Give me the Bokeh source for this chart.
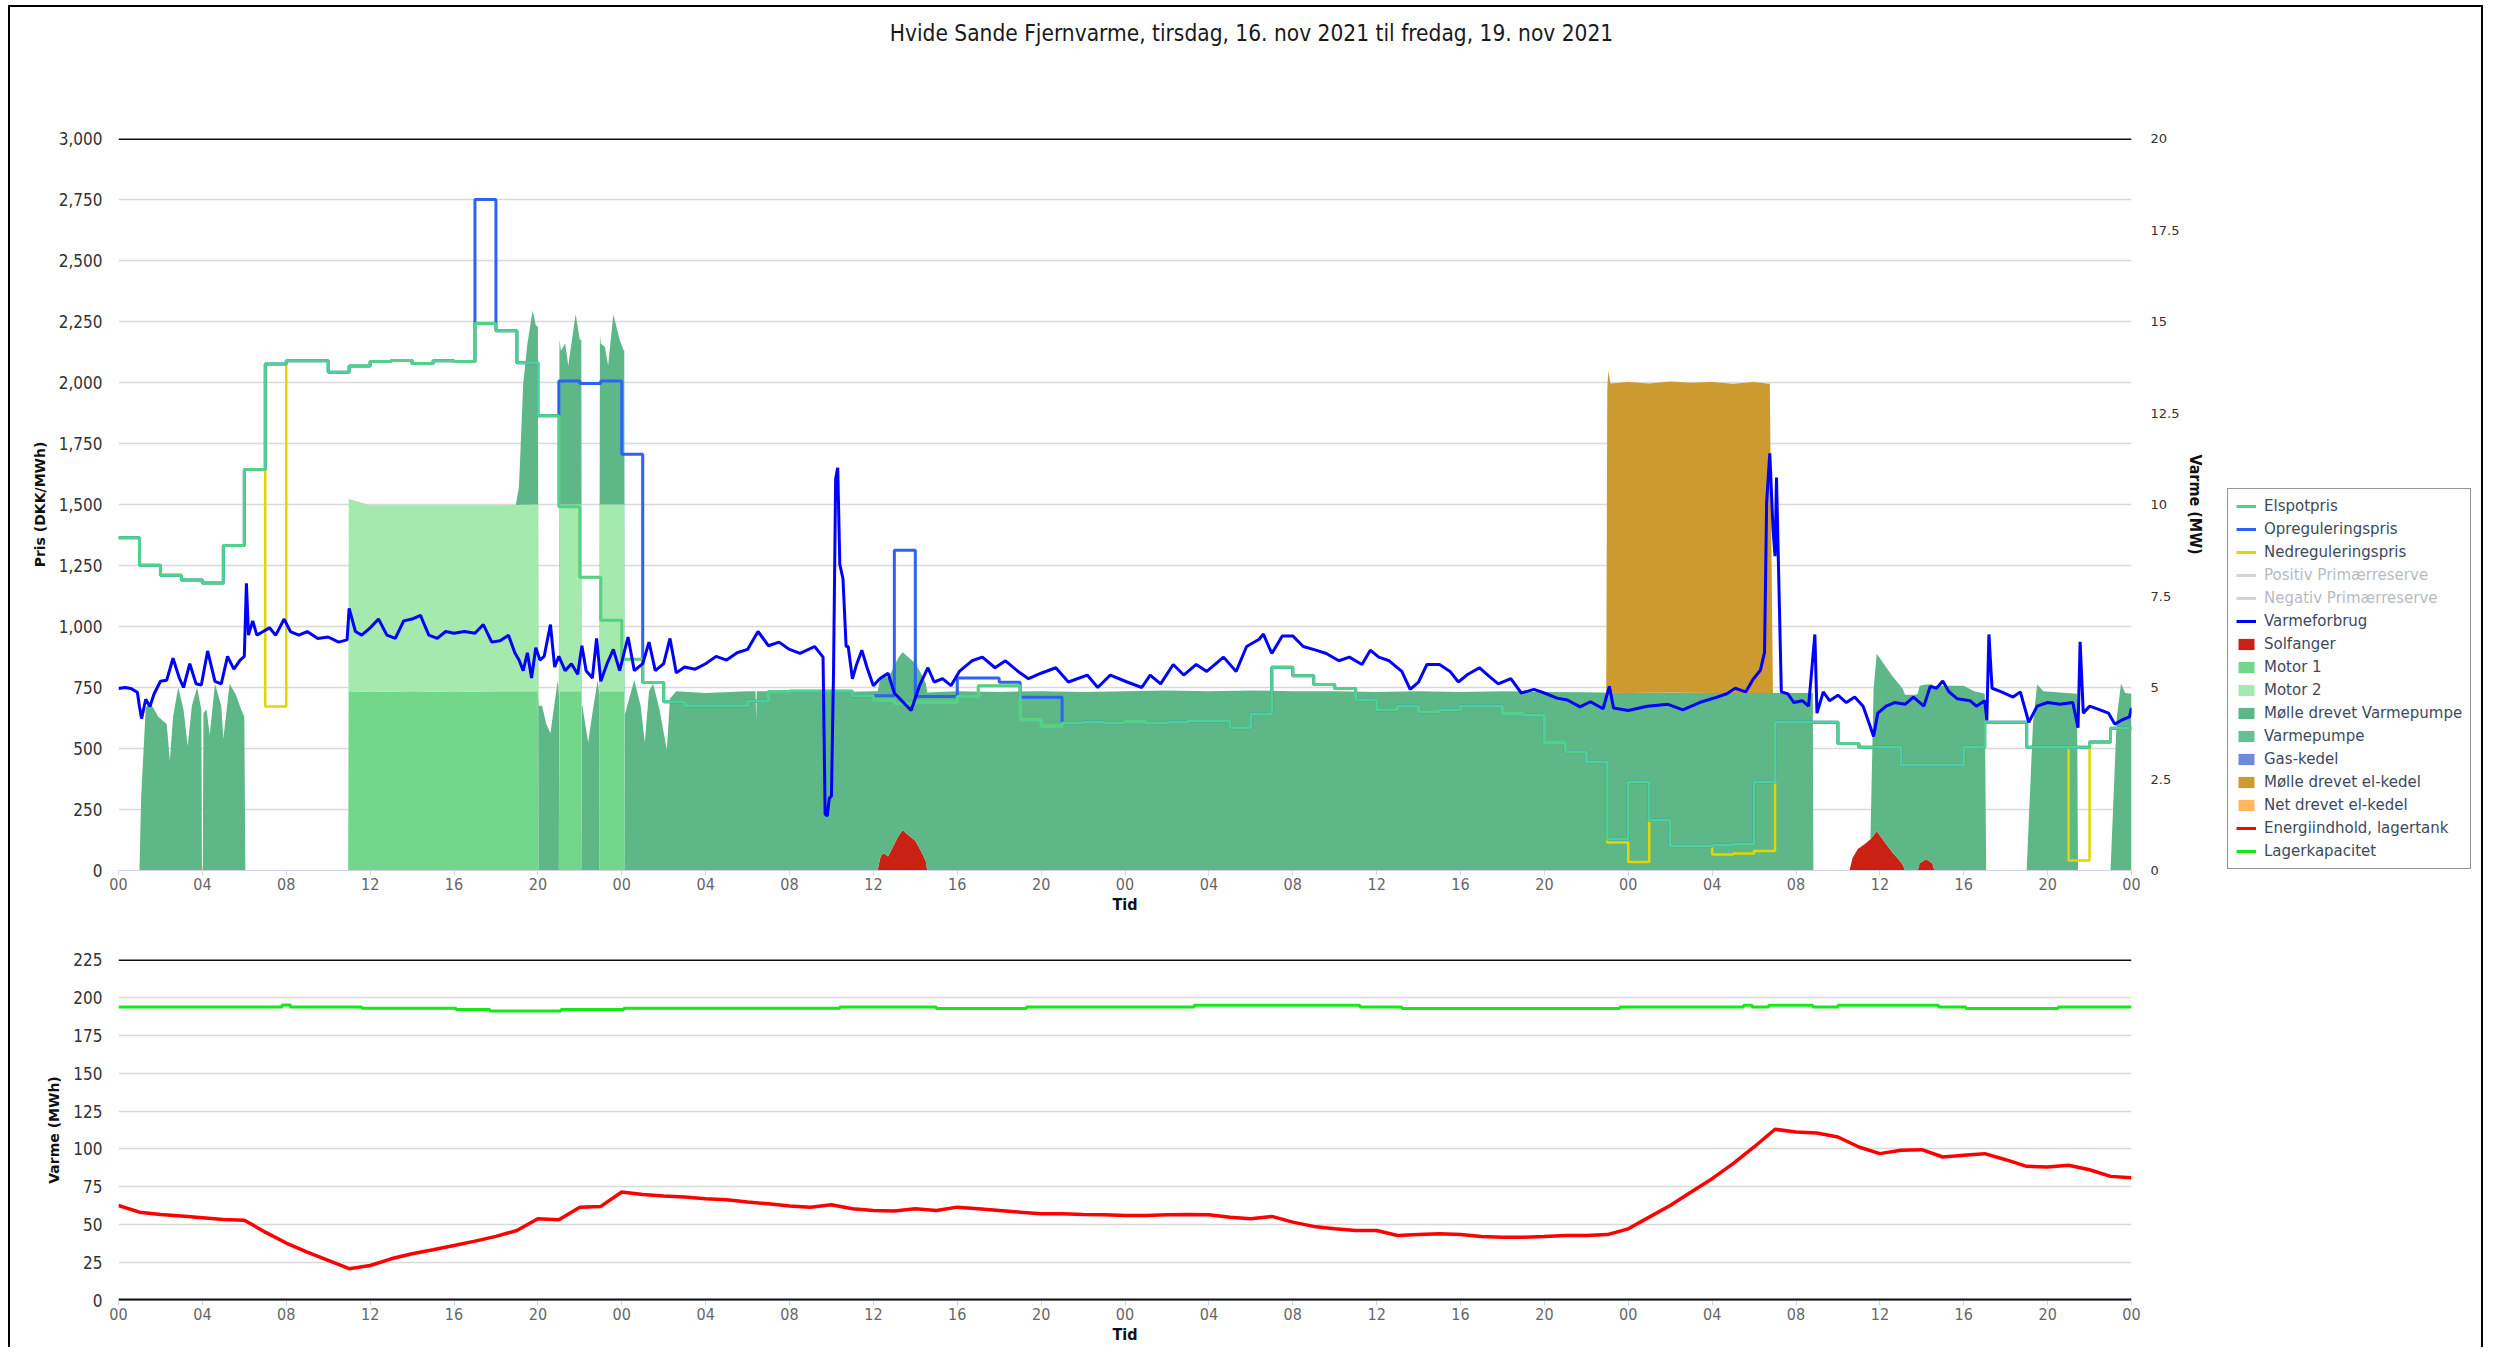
import numpy as np
from bokeh.plotting import figure
from bokeh.models import (Range1d, LinearAxis, FixedTicker, NumeralTickFormatter,
                          Span, Legend, LegendItem, Label)
from bokeh.layouts import column, row
from bokeh.embed import file_html
from bokeh.resources import INLINE

NARROW = "Liberation Sans Narrow, DejaVu Sans Condensed, Arial Narrow, sans-serif"
WIDE = "DejaVu Sans, Verdana, sans-serif"

TITLE = "Hvide Sande Fjernvarme, tirsdag, 16. nov 2021 til fredag, 19. nov 2021"

# ---------------- axis ticks (hours from tirsdag 16. nov 00:00) ----------------
tick_hours = list(range(0, 97, 4))
tick_labels = ["00", "04", "08", "12", "16", "20"] * 4 + ["00"]
price_ticks = list(range(0, 3001, 250))
mw_ticks = [0, 2.5, 5, 7.5, 10, 12.5, 15, 17.5, 20]
mwh_ticks = list(range(0, 226, 25))

# ---------------- hourly prices (DKK/MWh) ----------------
price_hours = list(range(96))
elspot = [1364, 1251, 1210, 1191, 1178, 1332, 1643, 2076, 2089, 2089, 2042, 2068, 2086, 2090, 2078, 2089, 2086, 2242, 2212, 2081,
          1864, 1491, 1202, 1026, 866, 770, 692, 675, 675, 675, 694, 734, 735, 735, 735, 716, 699, 684, 691, 691,
          713, 757, 757, 618, 592, 604, 608, 604, 611, 604, 608, 614, 614, 585, 640, 833, 798, 762, 746, 699,
          659, 673, 651, 658, 673, 673, 643, 636, 525, 486, 445, 129, 363, 206, 100, 100, 103, 108, 363, 608,
          608, 608, 520, 505, 505, 432, 432, 432, 505, 608, 608, 505, 505, 505, 527, 583]
opregulering = [1364, 1251, 1210, 1191, 1178, 1332, 1643, 2076, 2089, 2089, 2042, 2068, 2086, 2090, 2078, 2089, 2086, 2750, 2212, 2081,
                1864, 2006, 1996, 2006, 1706, 770, 692, 675, 675, 675, 694, 734, 735, 735, 735, 716, 716, 1313, 713, 713,
                789, 789, 772, 710, 710, 604, 608, 604, 611, 604, 608, 614, 614, 585, 640, 833, 798, 762, 746, 699,
                659, 673, 651, 658, 673, 673, 643, 636, 525, 486, 445, 129, 363, 206, 100, 100, 103, 108, 363, 608,
                608, 608, 520, 505, 505, 432, 432, 432, 505, 608, 608, 505, 505, 505, 527, 583]
nedregulering = [1364, 1251, 1210, 1191, 1178, 1332, 1643, 672, 2089, 2089, 2042, 2068, 2086, 2090, 2078, 2089, 2086, 2242, 2212, 2081,
                 1864, 1491, 1202, 1026, 866, 770, 692, 675, 675, 675, 694, 734, 735, 735, 735, 716, 699, 684, 691, 691,
                 713, 757, 757, 618, 592, 604, 608, 604, 611, 604, 608, 614, 614, 585, 640, 833, 798, 762, 746, 699,
                 659, 673, 651, 658, 673, 673, 643, 636, 525, 486, 445, 115, 35, 206, 100, 100, 66, 70, 80, 608,
                 608, 608, 520, 505, 505, 432, 432, 432, 505, 608, 608, 505, 505, 41, 527, 583]
# Positiv / Negativ Primærreserve are hidden series (greyed out in the legend)

# ---------------- Varmeforbrug (MW) ----------------
vf_hours = [0, 0.3, 0.6, 0.9, 1.0, 1.1, 1.3, 1.5, 1.7, 2.0, 2.3, 2.6, 2.9, 3.1, 3.4, 3.7, 3.95, 4.25, 4.6, 4.9,
            5.2, 5.5, 5.8, 6.0, 6.1, 6.2, 6.4, 6.6, 6.9, 7.2, 7.5, 7.9, 8.2, 8.6, 9.0, 9.5, 10.0, 10.5, 10.9, 11.0,
            11.3, 11.6, 12.0, 12.4, 12.8, 13.2, 13.6, 14.0, 14.4, 14.8, 15.2, 15.6, 16.0, 16.5, 17.0, 17.4, 17.8, 18.2, 18.6, 18.9,
            19.1, 19.3, 19.5, 19.7, 19.9, 20.1, 20.3, 20.6, 20.8, 21.0, 21.3, 21.6, 21.9, 22.1, 22.3, 22.6, 22.8, 23.0, 23.3, 23.6,
            23.9, 24.3, 24.6, 25.0, 25.3, 25.6, 26.0, 26.3, 26.6, 27.0, 27.5, 28.0, 28.5, 29.0, 29.5, 30.0, 30.5, 31.0, 31.5, 32.0,
            32.5, 33.2, 33.6, 33.7, 33.8, 33.9, 34.0, 34.1, 34.2, 34.3, 34.4, 34.55, 34.7, 34.8, 35.0, 35.2, 35.45, 35.7, 36.0, 36.3,
            36.7, 37.0, 37.4, 37.8, 38.2, 38.6, 38.9, 39.3, 39.7, 40.1, 40.7, 41.2, 41.8, 42.3, 42.9, 43.4, 44.0, 44.7, 45.3, 46.2,
            46.7, 47.3, 48.1, 48.8, 49.2, 49.7, 50.3, 50.8, 51.4, 51.9, 52.7, 53.3, 53.8, 54.4, 54.6, 55.0, 55.5, 56.0, 56.5, 57.1,
            57.6, 58.2, 58.7, 59.3, 59.7, 60.1, 60.6, 61.2, 61.6, 62.0, 62.4, 63.0, 63.5, 63.9, 64.3, 64.9, 65.3, 65.8, 66.4, 66.9,
            67.5, 68.0, 68.6, 69.1, 69.7, 70.2, 70.8, 71.1, 71.3, 72.0, 72.9, 73.9, 74.6, 75.4, 76.2, 76.7, 77.1, 77.6, 77.95, 78.3,
            78.5, 78.6, 78.75, 78.9, 79.0, 79.07, 79.2, 79.3, 79.6, 79.9, 80.3, 80.6, 80.9, 81.0, 81.3, 81.6, 82.0, 82.4, 82.8, 83.2,
            83.5, 83.7, 83.9, 84.3, 84.7, 85.2, 85.6, 86.1, 86.4, 86.7, 87.0, 87.3, 87.7, 88.3, 88.6, 89.0, 89.1, 89.2, 89.35, 89.8,
            90.35, 90.7, 91.1, 91.5, 92.0, 92.6, 93.2, 93.45, 93.55, 93.7, 94.0, 94.5, 94.9, 95.2, 95.5, 95.9, 96.0]
vf_mw = [4.97, 5.0, 4.97, 4.87, 4.48, 4.15, 4.68, 4.48, 4.83, 5.17, 5.2, 5.8, 5.26, 5.0, 5.65, 5.1, 5.07, 6.0, 5.17, 5.1,
         5.85, 5.5, 5.75, 5.85, 7.85, 6.43, 6.82, 6.43, 6.53, 6.63, 6.43, 6.87, 6.53, 6.43, 6.53, 6.34, 6.38, 6.24, 6.3, 7.16,
         6.53, 6.43, 6.63, 6.87, 6.43, 6.34, 6.82, 6.87, 6.97, 6.43, 6.34, 6.53, 6.48, 6.53, 6.48, 6.72, 6.24, 6.28, 6.43, 5.95,
         5.75, 5.46, 5.95, 5.26, 6.09, 5.75, 5.85, 6.72, 5.56, 5.85, 5.46, 5.65, 5.36, 6.14, 5.46, 5.26, 6.34, 5.17, 5.65, 6.04,
         5.46, 6.38, 5.46, 5.65, 6.24, 5.46, 5.65, 6.34, 5.4, 5.56, 5.5, 5.65, 5.85, 5.75, 5.95, 6.04, 6.53, 6.14, 6.24, 6.04,
         5.93, 6.12, 5.83, 1.54, 1.49, 1.98, 2.03, 5.44, 10.7, 11.0, 8.36, 7.97, 6.12, 6.12, 5.24, 5.63, 6.02, 5.54, 5.05, 5.24,
         5.39, 4.85, 4.61, 4.37, 5.05, 5.54, 5.15, 5.24, 5.05, 5.44, 5.73, 5.83, 5.54, 5.73, 5.44, 5.24, 5.39, 5.54, 5.15, 5.34,
         5.0, 5.34, 5.15, 5.0, 5.34, 5.1, 5.63, 5.34, 5.63, 5.44, 5.83, 5.44, 6.12, 6.32, 6.46, 5.93, 6.41, 6.41, 6.12, 6.02,
         5.93, 5.73, 5.83, 5.63, 6.02, 5.83, 5.73, 5.44, 4.95, 5.15, 5.63, 5.63, 5.44, 5.15, 5.34, 5.54, 5.34, 5.1, 5.24, 4.85,
         4.95, 4.85, 4.71, 4.66, 4.47, 4.61, 4.42, 5.03, 4.44, 4.37, 4.49, 4.54, 4.39, 4.59, 4.73, 4.83, 4.98, 4.88, 5.22, 5.47,
         5.96, 10.06, 11.4, 9.37, 8.59, 10.74, 7.42, 4.88, 4.83, 4.59, 4.64, 4.49, 6.45, 4.3, 4.88, 4.64, 4.79, 4.59, 4.74, 4.49,
         4.0, 3.66, 4.3, 4.49, 4.59, 4.54, 4.74, 4.49, 5.03, 4.98, 5.18, 4.88, 4.69, 4.64, 4.49, 4.64, 4.1, 6.45, 4.98, 4.88,
         4.74, 4.88, 4.05, 4.49, 4.59, 4.54, 4.59, 3.9, 6.25, 4.3, 4.49, 4.39, 4.3, 4.0, 4.1, 4.2, 4.44]

# ---------------- production areas (MW) ----------------
solfanger_hours = [36.2, 36.35, 36.5, 36.7, 36.9, 37.2, 37.4, 37.6, 38.0, 38.3, 38.5, 38.57,
                   82.55, 82.7, 82.95, 83.3, 83.6, 83.85, 84.2, 84.6, 84.9, 85.1, 85.2,
                   85.8, 85.9, 86.2, 86.5, 86.6]
solfanger_mw = [0, 0.4, 0.47, 0.38, 0.6, 0.95, 1.1, 1.0, 0.81, 0.5, 0.25, 0,
                0, 0.35, 0.59, 0.73, 0.88, 1.07, 0.8, 0.49, 0.3, 0.15, 0,
                0, 0.2, 0.31, 0.2, 0]

motor_hours = [10.95, 10.98, 12.0, 14.0, 16.0, 18.0, 20.0, 20.03,
               21.0, 21.03, 22.07, 22.1, 22.93, 22.96, 24.12, 24.15]
motor1_mw = [0, 4.9, 4.88, 4.9, 4.88, 4.9, 4.9, 0, 0, 4.9, 4.9, 0, 0, 4.9, 4.9, 0]
motor2_mw = [0, 5.25, 5.1, 5.08, 5.1, 5.08, 5.1, 0, 0, 5.1, 5.1, 0, 0, 5.1, 5.1, 0]

molle_vp_hours = [1.0, 1.08, 1.3, 1.5, 1.7, 1.9, 2.1, 2.3, 2.45, 2.6, 2.85, 3.1, 3.3, 3.5, 3.75, 3.95, 3.98, 4.02, 4.05,
                  4.2, 4.35, 4.6, 4.9, 5.0, 5.3, 5.6, 5.85, 6.0, 6.05,
                  18.95, 19.1, 19.3, 19.5, 19.75, 19.9, 20.02, 20.05, 20.2, 20.4, 20.6, 20.8, 20.95, 21.03, 21.1,
                  21.3, 21.45, 21.8, 22.0, 22.08, 22.12, 22.4, 22.6, 22.85, 22.93, 23.0, 23.2, 23.35, 23.6, 23.9,
                  24.1, 24.17, 24.4, 24.6, 24.9, 25.1, 25.3, 25.5, 25.8, 26.15, 26.3, 26.6, 28.0, 30.0, 30.38,
                  30.41, 30.44, 32.0, 34.0, 36.0, 38.0, 40.0, 42.0, 44.0, 46.0, 48.0, 50.0, 52.0, 54.0, 56.0,
                  58.0, 60.0, 62.0, 64.0, 66.0, 68.0, 70.0, 72.0, 74.0, 76.0, 78.0, 80.8, 80.83,
                  83.55, 83.7, 83.85, 85.0, 85.7, 85.9, 86.2, 86.5, 86.65, 88.0, 88.5, 89.0, 89.07,
                  91.0, 91.3, 91.5, 91.8, 93.4, 93.45, 95.0, 95.3, 95.5, 95.7, 96.0]
molle_vp_mw = [0, 2.0, 4.45, 4.6, 4.4, 4.2, 4.1, 4.0, 3.0, 4.2, 5.0, 4.4, 3.4, 4.5, 5.0, 4.4, 0, 0, 4.3,
               4.4, 3.7, 5.1, 4.5, 3.6, 5.1, 4.8, 4.4, 4.2, 0,
               0, 0.5, 3.3, 4.4, 5.3, 4.9, 4.85, 4.5, 4.5, 4.0, 3.75, 4.6, 5.2, 4.5, 4.2,
               4.4, 3.8, 5.2, 4.5, 4.5, 4.5, 3.5, 4.3, 5.2, 4.8, 4.4, 4.3, 3.8, 5.2, 4.5,
               4.2, 4.3, 4.8, 5.2, 4.5, 3.5, 4.9, 5.1, 4.4, 3.3, 4.7, 4.9, 4.85, 4.9, 4.9,
               4.1, 4.9, 4.9, 4.87, 4.9, 4.85, 4.9, 4.88, 4.9, 4.88, 4.9, 4.92, 4.9, 4.92, 4.9,
               4.9, 4.88, 4.9, 4.88, 4.9, 4.88, 4.87, 4.85, 4.86, 4.85, 4.85, 4.85, 0,
               0, 4.0, 4.85, 4.8, 4.8, 4.85, 4.77, 4.88, 5.05, 5.05, 4.9, 4.83, 0,
               0, 4.0, 5.08, 4.9, 4.83, 0, 0, 4.2, 5.1, 4.85, 4.83]

varmepumpe_hours = []
varmepumpe_mw = []
gas_hours = []
gas_mw = []

molle_elkedel_hours = [70.95, 71.0, 71.05, 71.15, 72.0, 73.0, 74.0, 75.0, 76.0, 77.0, 78.0, 78.75, 78.9]
molle_elkedel_mw = [0, 8.3, 8.8, 8.45, 8.5, 8.45, 8.5, 8.47, 8.5, 8.45, 8.5, 8.45, 0]

net_elkedel_hours = [3.97, 3.99, 4.01, 4.03]
net_elkedel_mw = [0, 0.12, 0.12, 0]

# ---------------- storage (MWh) ----------------
energi_hours = list(range(97))
energi_mwh = [62.7, 58.3, 56.8, 55.7, 54.6, 53.5, 53.0, 45.1, 37.9, 31.9, 26.4, 21.0, 23.1, 27.5, 30.8, 33.5, 36.3, 39.2, 42.3, 46.2,
              53.9, 53.3, 61.6, 62.1, 71.6, 70.0, 68.9, 68.3, 67.2, 66.5, 65.0, 63.8, 62.3, 61.6, 63.2, 60.5, 59.4, 59.0, 60.5, 59.4,
              61.6, 60.5, 59.4, 58.3, 57.2, 57.2, 56.8, 56.6, 56.1, 56.1, 56.6, 56.8, 56.6, 55.0, 53.9, 55.5, 51.7, 48.9, 47.3, 46.2,
              46.2, 42.9, 43.6, 44.0, 43.6, 42.3, 41.8, 41.8, 42.3, 42.9, 42.9, 43.5, 47.3, 55.0, 62.7, 71.6, 80.4, 90.3, 101.3, 113.0,
              111.2, 110.5, 107.9, 101.3, 96.9, 99.1, 99.5, 94.7, 95.8, 96.9, 92.9, 88.5, 88.1, 89.2, 86.3, 81.9, 81.0]

lager_hours = [0, 7.8, 8.2, 11.6, 16.1, 17.7, 21.1, 24.1, 34.4, 39.0, 43.3, 51.3, 59.2, 61.2, 71.6,
               77.5, 77.9, 78.7, 80.8, 82.0, 86.8, 88.1, 92.5]
lager_mwh = [193.7, 195.0, 193.7, 192.9, 192.0, 191.1, 192.0, 192.9, 193.7, 192.6, 193.7, 194.8, 193.7, 192.6, 193.7,
             194.8, 193.7, 194.8, 193.7, 194.8, 193.7, 192.6, 193.7]

# ---------------- colours ----------------
C_ELSPOT = "#50d28c"
C_OP = "#2e62f2"
C_NED = "#e3d500"
C_RES = "#8c8c8c"
C_VF = "#0000ff"
C_SOL = "#cb2115"
C_M1 = "#73d78b"
C_M2 = "#a4e9ae"
C_MVP = "#5db786"
C_VP = "#67c095"
C_GAS = "#6f8ad9"
C_MEK = "#cc9a2f"
C_NEK = "#ffb860"
C_EN = "#ff0000"
C_LAG = "#16ea16"

# ---------------- stacking of the areas ----------------
grid_x = np.array(sorted(set(solfanger_hours + motor_hours + molle_vp_hours + varmepumpe_hours +
                             gas_hours + molle_elkedel_hours + net_elkedel_hours)))


def on_grid(hx, hy):
    if len(hx) == 0:
        return np.zeros_like(grid_x)
    return np.interp(grid_x, hx, hy, left=0.0, right=0.0)


layers = [
    ("Solfanger", on_grid(solfanger_hours, solfanger_mw), C_SOL),
    ("Motor 1", on_grid(motor_hours, motor1_mw), C_M1),
    ("Motor 2", on_grid(motor_hours, motor2_mw), C_M2),
    ("Mølle drevet Varmepumpe", on_grid(molle_vp_hours, molle_vp_mw), C_MVP),
    ("Varmepumpe", on_grid(varmepumpe_hours, varmepumpe_mw), C_VP),
    ("Gas-kedel", on_grid(gas_hours, gas_mw), C_GAS),
    ("Mølle drevet el-kedel", on_grid(molle_elkedel_hours, molle_elkedel_mw), C_MEK),
    ("Net drevet el-kedel", on_grid(net_elkedel_hours, net_elkedel_mw), C_NEK),
]

# ---------------- sizes (page px) ----------------
LEFT = 108          # frame left edge at page x = 118
FRAME_W = 2013      # frame right edge at page x = 2131
RIGHT1 = 85
W1 = LEFT + FRAME_W + RIGHT1
TOTAL_W = 2471
WLEG = TOTAL_W - W1
TITLE_H = 55
H1 = 76 + 732 + 47
H2 = 42 + 341 + 47

# ---------------- title strip (frame aligned with the charts) ----------------
pt = figure(width=TOTAL_W, height=TITLE_H, x_range=Range1d(118, 2131), y_range=Range1d(0, TITLE_H),
            output_backend="svg", toolbar_location=None, min_border=0,
            min_border_left=LEFT, min_border_right=TOTAL_W - LEFT - FRAME_W,
            x_axis_location=None, y_axis_location=None)
pt.grid.visible = False
pt.outline_line_color = None
pt.add_layout(Label(x=1251, y=TITLE_H - 25, text=TITLE, text_align="center", text_baseline="middle",
                    text_font=NARROW, text_font_size="22.5px", text_color="#1a1a1a"))

# ---------------- upper figure ----------------
p1 = figure(width=W1, height=H1, x_range=Range1d(0, 96), y_range=Range1d(0, 3000),
            output_backend="svg", toolbar_location=None,
            min_border_left=LEFT, min_border_right=RIGHT1, min_border_top=76, min_border_bottom=47)
p1.extra_y_ranges = {"mw": Range1d(0, 20)}
p1.outline_line_color = None
p1.xgrid.visible = False
p1.ygrid.ticker = FixedTicker(ticks=price_ticks)
p1.ygrid.grid_line_color = "#d9d9d9"
p1.ygrid.grid_line_width = 1.5


def style_x(ax):
    ax.ticker = FixedTicker(ticks=tick_hours)
    ax.major_label_overrides = {h: lab for h, lab in zip(tick_hours, tick_labels)}
    ax.major_label_text_font = NARROW
    ax.major_label_text_font_size = "16px"
    ax.major_label_text_color = "#666666"
    ax.axis_line_color = "#ccd6eb"
    ax.major_tick_line_color = "#ccd6eb"
    ax.major_tick_in = 0
    ax.major_tick_out = 5
    ax.minor_tick_line_color = None
    ax.major_label_standoff = 2
    ax.axis_label = "Tid"
    ax.axis_label_text_font = NARROW
    ax.axis_label_text_font_style = "bold"
    ax.axis_label_text_font_size = "16px"
    ax.axis_label_text_color = "#111111"
    ax.axis_label_standoff = 2


def style_y(ax, label, standoff):
    ax.major_label_text_font = NARROW
    ax.major_label_text_font_size = "17px"
    ax.major_label_text_color = "#333333"
    ax.axis_line_color = None
    ax.major_tick_line_color = None
    ax.minor_tick_line_color = None
    ax.major_label_standoff = 10
    ax.axis_label = label
    ax.axis_label_text_font = WIDE
    ax.axis_label_text_font_style = "bold"
    ax.axis_label_text_font_size = "14px"
    ax.axis_label_text_color = "#111111"
    ax.axis_label_standoff = standoff


style_x(p1.xaxis[0])
p1.yaxis.ticker = FixedTicker(ticks=price_ticks)
p1.yaxis.formatter = NumeralTickFormatter(format="0,0")
style_y(p1.yaxis[0], "Pris (DKK/MWh)", 8)

ax_r = LinearAxis(y_range_name="mw", ticker=FixedTicker(ticks=mw_ticks),
                  formatter=NumeralTickFormatter(format="0[.]0"))
ax_r.major_label_text_font = WIDE
ax_r.major_label_text_font_size = "13px"
ax_r.major_label_text_color = "#333333"
ax_r.axis_line_color = None
ax_r.major_tick_line_color = None
ax_r.minor_tick_line_color = None
ax_r.major_label_standoff = 13
ax_r.axis_label = "Varme (MW)"
ax_r.axis_label_text_font = NARROW
ax_r.axis_label_text_font_style = "bold"
ax_r.axis_label_text_font_size = "16px"
ax_r.axis_label_text_color = "#111111"
ax_r.axis_label_standoff = 4
p1.add_layout(ax_r, "right")

# areas (stacked)
base = np.zeros_like(grid_x)
stack_bounds = []
for name, vals, col in layers:
    top = base + vals
    p1.varea(x=grid_x, y1=base, y2=top, fill_color=col, fill_alpha=1.0, y_range_name="mw")
    stack_bounds.append((name, base, top, col))
    base = top

# price step lines
px = price_hours + [96]
p1.step(px, nedregulering + nedregulering[-1:], mode="after", line_color=C_NED, line_width=2.5)
p1.step(px, opregulering + opregulering[-1:], mode="after", line_color=C_OP, line_width=3)
p1.step(px, elspot + elspot[-1:], mode="after", line_color=C_ELSPOT, line_width=3)
p1.line(vf_hours, vf_mw, line_color=C_VF, line_width=3, y_range_name="mw")
p1.add_layout(Span(location=3000, dimension="width", line_color="#111111", line_width=3))

# ---------------- legend panel (its renderers lie outside its visible range) ----------------
pl = figure(width=WLEG, height=H1, x_range=Range1d(0, 96), y_range=Range1d(-2, -1),
            output_backend="svg", toolbar_location=None, min_border=0,
            x_axis_location=None, y_axis_location=None)
pl.grid.visible = False
pl.outline_line_color = None

items = []
r = pl.step(px, elspot + elspot[-1:], mode="after", line_color=C_ELSPOT, line_width=3)
items.append(LegendItem(label="Elspotpris", renderers=[r]))
r = pl.step(px, opregulering + opregulering[-1:], mode="after", line_color=C_OP, line_width=3)
items.append(LegendItem(label="Opreguleringspris", renderers=[r]))
r = pl.step(px, nedregulering + nedregulering[-1:], mode="after", line_color=C_NED, line_width=3)
items.append(LegendItem(label="Nedreguleringspris", renderers=[r]))
for name in ["Positiv Primærreserve", "Negativ Primærreserve"]:
    r = pl.line(px, elspot + elspot[-1:], line_color=C_RES, line_width=3, visible=False)
    items.append(LegendItem(label=name, renderers=[r]))
r = pl.line(vf_hours, vf_mw, line_color=C_VF, line_width=3)
items.append(LegendItem(label="Varmeforbrug", renderers=[r]))
for name, b, t, col in stack_bounds:
    r = pl.varea(x=grid_x, y1=b, y2=t, fill_color=col)
    items.append(LegendItem(label=name, renderers=[r]))
r = pl.line(energi_hours, energi_mwh, line_color=C_EN, line_width=3)
items.append(LegendItem(label="Energiindhold, lagertank", renderers=[r]))
r = pl.step(lager_hours + [96], lager_mwh + lager_mwh[-1:], mode="after", line_color=C_LAG, line_width=3)
items.append(LegendItem(label="Lagerkapacitet", renderers=[r]))

legend = Legend(items=items, location=(11, 1), click_policy="hide",
                inactive_fill_color="white", inactive_fill_alpha=0.62,
                border_line_color="#2a2a2a", border_line_width=1.8,
                background_fill_color="white", background_fill_alpha=1.0,
                label_text_font=WIDE, label_text_font_size="15px", label_text_color="#3d4a5c",
                glyph_width=20, glyph_height=14, label_height=18, spacing=5,
                padding=8, margin=0, label_standoff=8)
pl.add_layout(legend)

# ---------------- lower figure ----------------
p2 = figure(width=TOTAL_W, height=H2, x_range=p1.x_range, y_range=Range1d(0, 225),
            output_backend="svg", toolbar_location=None,
            min_border_left=LEFT, min_border_right=TOTAL_W - LEFT - FRAME_W,
            min_border_top=42, min_border_bottom=47)
p2.outline_line_color = None
p2.xgrid.visible = False
p2.ygrid.ticker = FixedTicker(ticks=mwh_ticks)
p2.ygrid.grid_line_color = "#d9d9d9"
p2.ygrid.grid_line_width = 1.5
style_x(p2.xaxis[0])
p2.yaxis.ticker = FixedTicker(ticks=mwh_ticks)
style_y(p2.yaxis[0], "Varme (MWh)", 8)

p2.line(energi_hours, energi_mwh, line_color=C_EN, line_width=3.5)
p2.step(lager_hours + [96], lager_mwh + lager_mwh[-1:], mode="after", line_color=C_LAG, line_width=3)
p2.add_layout(Span(location=225, dimension="width", line_color="#111111", line_width=3))
p2.add_layout(Span(location=0, dimension="width", line_color="#111111", line_width=4))

layout = column(pt, row(p1, pl), p2,
                styles={"border-top": "2px solid #000", "border-left": "2px solid #000",
                        "border-right": "2px solid #000", "margin-left": "8px", "margin-top": "5px"})

open("out.html", "w").write(file_html(layout, INLINE))
